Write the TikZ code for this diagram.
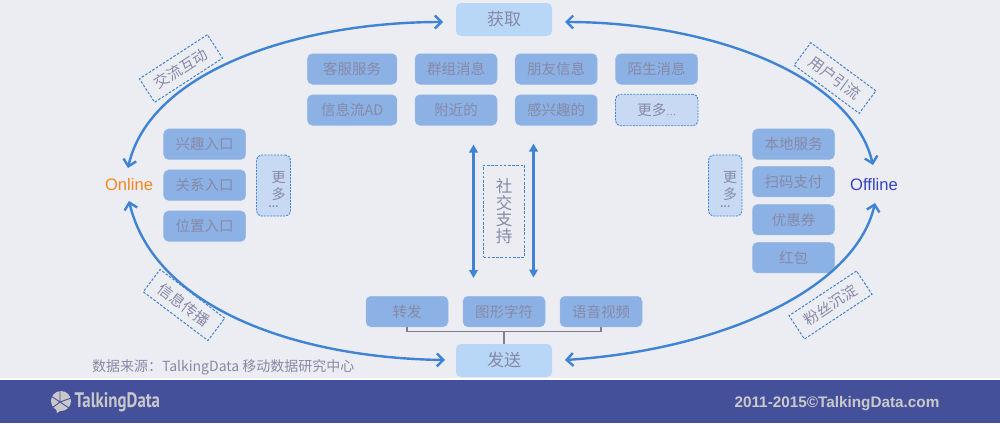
\documentclass[tikz,border=0pt]{standalone}
\usepackage{fontspec}
\setmainfont{Noto Sans CJK SC}
\newfontfamily\latinf{Liberation Sans}
\newfontfamily\logof{PT Sans}
\usetikzlibrary{arrows.meta}
\definecolor{bgc}{HTML}{ECEDF2}
\definecolor{boxc}{HTML}{8CB1E4}
\definecolor{boxe}{HTML}{98B9E8}
\definecolor{lightc}{HTML}{B8D6F5}
\definecolor{morec}{HTML}{C7D9F3}
\definecolor{bluec}{HTML}{3F83D4}
\definecolor{textc}{HTML}{8789A8}
\definecolor{footc}{HTML}{45509A}
\definecolor{foott}{HTML}{C9C9CB}
\definecolor{linec}{HTML}{808088}
\definecolor{onlinec}{HTML}{F0861F}
\definecolor{offlinec}{HTML}{3444BE}
\tikzset{
  tx/.style={text=textc,inner sep=0pt,outer sep=0pt,align=center},
  itembox/.style={tx,fill=boxc,draw=boxe,line width=.5pt,rounded corners=5pt,minimum width=82pt,minimum height=30.5pt,font=\fontsize{14.5}{17}\selectfont},
  mainbox/.style={tx,fill=lightc,rounded corners=5pt,minimum width=96pt,minimum height=33pt,font=\fontsize{17}{20}\selectfont},
  morebox/.style={tx,fill=morec,draw=bluec,line width=.9pt,dash pattern=on 2pt off 1.2pt,rounded corners=5pt},
  tagbox/.style={tx,draw=bluec,line width=1pt,dash pattern=on 2.6pt off 1.6pt,minimum width=81pt,minimum height=28pt,font=\fontsize{15}{17}\selectfont},
  flow/.style={draw=bluec,line width=2.4pt,{Straight Barb[length=6.5pt,width=13pt,line width=2.4pt]}-{Straight Barb[length=6.5pt,width=13pt,line width=2.4pt]}},
  vert/.style={draw=bluec,line width=2.2pt,{Triangle[length=8pt,width=8.5pt]}-{Triangle[length=8pt,width=8.5pt]}},
  joinline/.style={draw=linec,line width=1.2pt},
  placename/.style={inner sep=0pt,font=\latinf\fontsize{16.6}{18}\selectfont},
}
\begin{document}
\begin{tikzpicture}[x=1pt,y=-1pt]
\useasboundingbox (0,0) rectangle (1000,423);
\fill[bgc] (0,0) rectangle (1000,423);
\fill[white] (0,378) rectangle (1000,380);
\fill[footc] (0,380) rectangle (1000,423);
% main nodes
\node[mainbox] (get) at (504,19.5) {获取};
\node[mainbox] (send) at (504,360.5) {发送};
\node[placename,text=onlinec] (online) at (129,185) {Online};
\node[placename,text=offlinec] (offline) at (874,185) {Offline};
% top grid
\node[itembox,minimum width=89.5pt] (a1) at (352.2,69) {客服服务};
\node[itembox] (a2) at (456,69) {群组消息};
\node[itembox] (a3) at (556.2,69) {朋友信息};
\node[itembox] (a4) at (656.7,69) {陌生消息};
\node[itembox,minimum width=89.5pt] (b1) at (352.2,110) {信息流AD};
\node[itembox] (b2) at (456,110) {附近的};
\node[itembox] (b3) at (556.2,110) {感兴趣的};
\node[morebox,minimum width=82.5pt,minimum height=31.5pt,font=\fontsize{14.5}{17}\selectfont] (b4) at (656.7,110) {更多{\fontsize{9}{10}\selectfont …}};
% left
\node[itembox] (l1) at (204.7,144.2) {兴趣入口};
\node[itembox] (l2) at (204.7,185.2) {关系入口};
\node[itembox] (l3) at (204.7,226.2) {位置入口};
\node[morebox,minimum width=34pt,minimum height=61pt] (lm) at (273.5,185.5) {};
\node[tx,font=\fontsize{14}{17}\selectfont] (lmt) at (278.5,186.5) {更\\多};
\node[tx,font=\bfseries\fontsize{9}{10}\selectfont] (lmd) at (273.5,207) {…};
% right
\node[itembox] (r1) at (793.5,144.2) {本地服务};
\node[itembox] (r2) at (793.5,181.7) {扫码支付};
\node[itembox] (r3) at (793.5,219.7) {优惠券};
\node[itembox] (r4) at (793.5,257.7) {红包};
\node[morebox,minimum width=33.5pt,minimum height=61pt] (rm) at (725.2,185.5) {};
\node[tx,font=\fontsize{14}{17}\selectfont] (rmt) at (730,186.5) {更\\多};
\node[tx,font=\bfseries\fontsize{9}{10}\selectfont] (rmd) at (725.2,207) {…};
% bottom
\node[itembox] (s1) at (407,311.5) {转发};
\node[itembox] (s2) at (504,311.5) {图形字符};
\node[itembox] (s3) at (601,311.5) {语音视频};
\draw[joinline] (s1.south) -- ++(0,5) -| (s3.south);
\draw[joinline] (s2.south) ++(0,5) -- (send.north);
% centre
\node[tagbox,minimum width=41pt,minimum height=92pt,font=\fontsize{16.5}{16.5}\selectfont] (soc) at (504,211) {社\\交\\支\\持};
\coordinate (v1a) at (473.5,144.5);
\coordinate (v1b) at (473.5,278);
\coordinate (v2a) at (533.5,143.5);
\coordinate (v2b) at (533.5,277.5);
\draw[vert] (v1a) -- (v1b);
\draw[vert] (v2a) -- (v2b);
% tags
\node[tagbox,rotate=33] (t1) at (181,68.5) {交流互动};
\node[tagbox,rotate=-36.5] (t2) at (835,78) {用户引流};
\node[tagbox,rotate=-37] (t3) at (184,305) {信息传播};
\node[tagbox,rotate=33.5] (t4) at (830.5,305) {粉丝沉淀};
% flows
\coordinate (g1) at (443,22);
\coordinate (g2) at (565,22);
\coordinate (s1e) at (445,360);
\coordinate (s2e) at (565,360);
\coordinate (on1) at (128,168);
\coordinate (on2) at (129,201);
\coordinate (of1) at (873,165);
\coordinate (of2) at (875,203);
\draw[flow] (g1) .. controls (300,22) and (150,70) .. (on1);
\draw[flow] (g2) .. controls (700,22) and (850,70) .. (of1);
\draw[flow] (s1e) .. controls (300,358) and (155,310) .. (on2);
\draw[flow] (s2e) .. controls (720,350) and (855,290) .. (of2);
% source
\node[tx,anchor=west,font=\fontsize{14}{16}\selectfont] (src) at (92,367) {数据来源：TalkingData 移动数据研究中心};
% footer
\node[inner sep=0pt,text=foott,font=\latinf\bfseries\fontsize{15.3}{17}\selectfont] (copy) at (837,404) {2011-2015©TalkingData.com};
\node[inner sep=0pt,text=foott,font=\logof\bfseries\fontsize{21}{24}\selectfont,xscale=.8,anchor=west] (logo) at (74.5,402) {TalkingData};
\fill[foott] (61,401) circle (10pt);
\fill[foott] (56,408) -- (57,413) -- (63,409) -- cycle;
\draw[footc,line width=.9pt] (60,402) -- (60,390) (60,402) -- (71,398) (60,402) -- (51,396) (60,402) -- (52,408) (60,402) -- (69,408);
\end{tikzpicture}
\end{document}
